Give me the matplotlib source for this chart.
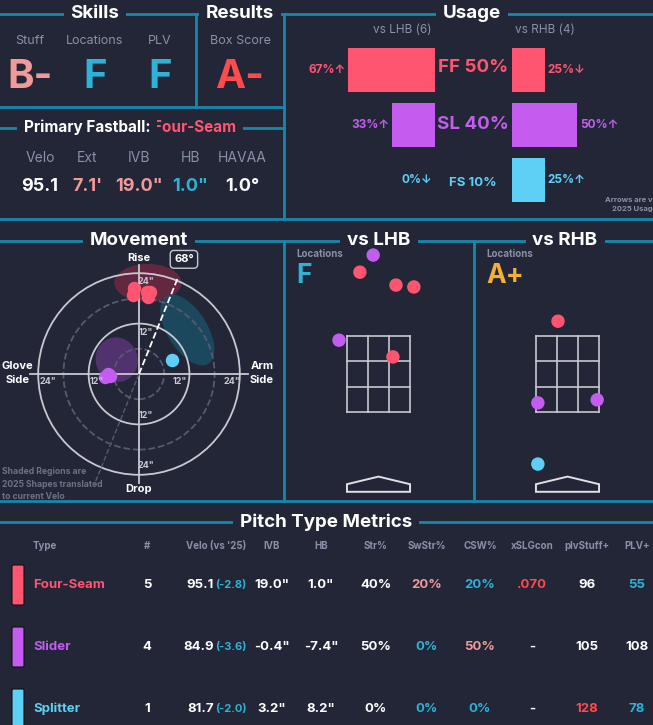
import numpy as np
import matplotlib
matplotlib.use('Agg')
import matplotlib.pyplot as plt
from matplotlib.patches import Ellipse, Circle, Polygon, FancyBboxPatch

plt.rcParams['font.family'] = ['Inter', 'DejaVu Sans']

BG = '#222637'
LINE = '#1687ad'
WHITE = '#ffffff'
GRAY = '#8a90a8'
TEAL = '#2fb2d6'
SALMON = '#f29a9a'
RED = '#ff4b4b'
GOLD = '#f2b134'
FF_C = '#ff5570'
SL_C = '#c45cf0'
FS_C = '#5fd0f5'

W, H = 653, 725

# ---- data ----
skill_names = ['Stuff', 'Locations', 'PLV']
skill_grades = ['B-', 'F', 'F']
box_score = 'A-'

fb_labels = ['Velo', 'Ext', 'IVB', 'HB', 'HAVAA']
fb_values = ['95.1', "7.1'", '19.0"', '1.0"', '1.0°']

usage_pitches = ['FF', 'SL', 'FS']
usage_total = [50, 40, 10]
usage_lhb = [67, 33, 0]
usage_rhb = [25, 50, 25]
arrow_lhb = ['↑', '↑', '↓']
arrow_rhb = ['↓', '↑', '↑']

ff_hb = [-1.2, 1.9, -1.4, 2.1, 2.6]
ff_ivb = [20.5, 19.5, 18.8, 18.3, 19.5]
sl_hb = [-8.0, -7.4, -6.8, -7.3]
sl_ivb = [-0.6, -0.3, -0.5, 0.0]
fs_hb = [7.9]
fs_ivb = [3.3]
arm_angle = 68

lhb_x = [-0.14, -0.49, 0.46, 0.93, -1.04, 0.38]
lhb_z = [5.63, 5.18, 4.84, 4.79, 3.39, 2.95]
lhb_type = ['SL', 'FF', 'FF', 'FF', 'SL', 'FF']
rhb_x = [-0.25, -0.78, 0.78, -0.78]
rhb_z = [3.89, 1.74, 1.82, 0.13]
rhb_type = ['FF', 'SL', 'SL', 'FS']
loc_grades = ['F', 'A+']

tbl_headers = ['Type', '#', "Velo (vs '25)", 'IVB', 'HB', 'Str%', 'SwStr%', 'CSW%', 'xSLGcon', 'plvStuff+', 'PLV+']
tbl_names = ['Four-Seam', 'Slider', 'Splitter']
tbl_count = ['5', '4', '1']
tbl_velo = ['95.1', '84.9', '81.7']
tbl_vdiff = ['(-2.8)', '(-3.6)', '(-2.0)']
tbl_ivb = ['19.0"', '-0.4"', '3.2"']
tbl_hb = ['1.0"', '-7.4"', '8.2"']
tbl_str = ['40%', '50%', '0%']
tbl_swstr = ['20%', '0%', '0%']
tbl_csw = ['20%', '50%', '0%']
tbl_xslg = ['.070', '-', '-']
tbl_stuff = ['96', '105', '128']
tbl_plv = ['55', '108', '78']

pcol = {'FF': FF_C, 'SL': SL_C, 'FS': FS_C}

fig = plt.figure(figsize=(W / 100, H / 100), dpi=100, facecolor=BG)
bg = fig.add_axes([0, 0, 1, 1])
bg.set_xlim(0, W)
bg.set_ylim(H, 0)
bg.axis('off')
bg.set_facecolor(BG)


def pax(x0, y0, x1, y1):
    return fig.add_axes([x0 / W, 1 - y1 / H, (x1 - x0) / W, (y1 - y0) / H])


def hline(y, x0=0, x1=W):
    bg.plot([x0, x1], [y, y], color=LINE, lw=2, zorder=1)


def vline(x, y0, y1):
    bg.plot([x, x], [y0, y1], color=LINE, lw=2, zorder=1)


def header(x, y, s, size=13.5):
    bg.text(x, y, s, color=WHITE, fontsize=size, fontweight='bold', ha='center', va='center',
            bbox=dict(facecolor=BG, edgecolor='none', pad=5), zorder=3)


def txt(x, y, s, c=WHITE, size=9, ha='center', w='bold', **kw):
    bg.text(x, y, s, color=c, fontsize=size, ha=ha, va='center', fontweight=w, **kw)


# ---- frame lines ----
hline(14)
vline(196, 14, 107)
vline(284, 14, 219)
hline(107, 0, 284)
hline(128, 0, 284)
hline(219)
hline(241)
vline(284, 241, 501)
vline(474, 241, 501)
hline(501)
hline(522)

header(95, 13, 'Skills')
header(240, 13, 'Results')
header(472, 13, 'Usage')
bg.text(153, 127, 'Four-Seam', color=FF_C, fontsize=11, fontweight='bold', ha='left', va='center',
        bbox=dict(facecolor=BG, edgecolor='none', pad=5), zorder=3)
bg.text(150, 127, 'Primary Fastball:', color=WHITE, fontsize=11, fontweight='bold', ha='right', va='center',
        bbox=dict(facecolor=BG, edgecolor='none', pad=5), zorder=4)
header(139, 240, 'Movement')
header(379, 240, 'vs LHB')
header(565, 240, 'vs RHB')
header(326, 522, 'Pitch Type Metrics')

# ---- skills ----
grade_cols = [SALMON, TEAL, TEAL]
for i, (n, g) in enumerate(zip(skill_names, skill_grades)):
    x = 30 + 65 * i
    txt(x, 41, n, GRAY, 9, w='normal')
    txt(x, 77, g, grade_cols[i], 29)
txt(240, 41, 'Box Score', GRAY, 9, w='normal')
txt(240, 77, box_score, RED, 29)

fb_cols = [WHITE, SALMON, SALMON, TEAL, WHITE]
for i, (l, v) in enumerate(zip(fb_labels, fb_values)):
    x = [40, 87, 139, 190, 242][i]
    txt(x, 158, l, GRAY, 10, w='normal')
    txt(x, 186, v, fb_cols[i], 13)

# ---- usage ----
txt(402, 30, 'vs LHB (6)', GRAY, 8.5, w='normal')
txt(545, 30, 'vs RHB (4)', GRAY, 8.5, w='normal')
ul = pax(300, 40, 435, 210)
ur = pax(512, 40, 640, 210)
ypos = np.arange(3)
cols = [FF_C, SL_C, FS_C]
ul.barh(ypos, usage_lhb, height=0.8, color=cols)
ur.barh(ypos, usage_rhb, height=0.8, color=cols)
ul.set_xlim(104, 0)
ur.set_xlim(0, 98)
for a in (ul, ur):
    a.set_ylim(2.55, -0.55)
    a.axis('off')
for i in range(3):
    ul.text(usage_lhb[i] + 2, i, f'{usage_lhb[i]}%{arrow_lhb[i]}', color=cols[i], fontsize=8.5,
            fontweight='bold', ha='right', va='center')
    ur.text(usage_rhb[i] + 2, i, f'{usage_rhb[i]}%{arrow_rhb[i]}', color=cols[i], fontsize=8.5,
            fontweight='bold', ha='left', va='center')
    sz = 13.5 if usage_total[i] >= 20 else 9.5
    txt(473, [67, 124, 183][i], f'{usage_pitches[i]} {usage_total[i]}%', cols[i], sz)
txt(605, 200, 'Arrows are vs', GRAY, 5.5, ha='left')
txt(612, 209, '2025 Usage', GRAY, 5.5, ha='left')

# ---- movement ----
mv = pax(0, 250, 284, 500)
sc = 4.2
mv.set_xlim(-139 / sc, 145 / sc)
mv.set_ylim(-(500 - 374) / sc, (374 - 250) / sc)
mv.axis('off')
mv.add_patch(Ellipse((2.1, 21.7), 16, 9, color='#7a2a44', alpha=0.75, lw=0))
mv.add_patch(Ellipse((11.5, 10.5), 19, 9.5, angle=-58, color='#1b4f66', alpha=0.85, lw=0))
mv.add_patch(Ellipse((-5.3, 3.4), 10, 10.7, angle=20, color='#5a3478', alpha=0.85, lw=0))
for r, ls, c in [(12, '-', '#c8c8d0'), (24, '-', '#c8c8d0'), (6, '--', '#555a6e'), (18, '--', '#555a6e')]:
    mv.add_patch(Circle((0, 0), r, fill=False, ls=ls, ec=c, lw=1.3))
mv.plot([-26, 26], [0, 0], color='#c8c8d0', lw=1.3)
mv.plot([0, 0], [-26, 26], color='#c8c8d0', lw=1.3)
a = np.radians(arm_angle)
mv.plot([0, 25 * np.cos(a)], [0, 25 * np.sin(a)], color=WHITE, ls='--', lw=1.3)
mv.plot([0, -29 * np.cos(a)], [0, -29 * np.sin(a)], color='#555a6e', ls='--', lw=1)
mv.scatter(ff_hb, ff_ivb, s=75, color=FF_C, zorder=5)
mv.scatter(sl_hb, sl_ivb, s=75, color=SL_C, zorder=5)
mv.scatter(fs_hb, fs_ivb, s=75, color=FS_C, zorder=5)
ring_lab = [(1.7, 22.1, 'center'), (1.7, 9.8, 'center'), (1.7, -9.8, 'center'), (1.7, -21.9, 'center'),
            (-23.6, -1.9, 'left'), (-11.7, -1.9, 'left'), (11.5, -1.9, 'right'), (24.2, -1.9, 'right')]
ring_txt = ['24"', '12"', '12"', '24"', '24"', '12"', '12"', '24"']
for (x, y, ha), s in zip(ring_lab, ring_txt):
    mv.text(x, y, s, color='#c8c8d0', fontsize=6.5, fontweight='bold', ha=ha, va='center', zorder=6)
mv.text(0, 27.6, 'Rise', color=WHITE, fontsize=8, fontweight='bold', ha='center', va='center')
mv.text(0, -27.3, 'Drop', color=WHITE, fontsize=8, fontweight='bold', ha='center', va='center')
mv.text(-28.9, 0.2, 'Glove\nSide', color=WHITE, fontsize=8, fontweight='bold', ha='center', va='center', linespacing=1.5)
mv.text(29.3, 0.2, 'Arm\nSide', color=WHITE, fontsize=8, fontweight='bold', ha='center', va='center', linespacing=1.5)
mv.text(10.7, 27.3, f'{arm_angle}°', color=WHITE, fontsize=8, fontweight='bold', ha='center', va='center',
        bbox=dict(boxstyle='round,pad=0.35', facecolor=BG, edgecolor='#c8c8d0', lw=1))
txt(2, 484, 'Shaded Regions are\n2025 Shapes translated\nto current Velo', '#6c7186', 6.2, ha='left', linespacing=1.45)

# ---- locations ----
def loc_panel(x0, x1, cx, xs, zs, types, grade, gcol):
    ax = pax(x0, 245, x1, 500)
    s = 38
    ax.set_xlim((x0 - cx) / s, (x1 - cx) / s)
    ax.set_ylim((469 - 500) / s, (469 - 245) / s)
    ax.axis('off')
    zl, zr, zb, zt = -0.83, 0.83, 1.5, 3.5
    for xv in np.linspace(zl, zr, 4):
        ax.plot([xv, xv], [zb, zt], color='#c8c8d0', lw=1.2)
    for zv in np.linspace(zb, zt, 4):
        ax.plot([zl, zr], [zv, zv], color='#c8c8d0', lw=1.2)
    ax.add_patch(Polygon([[-0.83, -0.6], [0.83, -0.6], [0.83, -0.4], [0, -0.2], [-0.83, -0.4]],
                         closed=True, fill=False, ec='#e0e0e6', lw=1.4))
    ax.scatter(xs, zs, s=75, c=[pcol[t] for t in types], zorder=5)
    bg.text(x0 + 12, 254, 'Locations', color=GRAY, fontsize=7, fontweight='bold', ha='left', va='center')
    bg.text(x0 + 12, 276, grade, color=gcol, fontsize=19, fontweight='bold', ha='left', va='center')


loc_panel(284, 474, 378.5, lhb_x, lhb_z, lhb_type, loc_grades[0], TEAL)
loc_panel(474, 653, 567.5, rhb_x, rhb_z, rhb_type, loc_grades[1], GOLD)

# ---- table ----
col_x = [33, 147, 216, 272, 321, 376, 427, 480, 532, 587, 637]
for i, h in enumerate(tbl_headers):
    txt(col_x[i], 546, h, GRAY, 7, ha='left' if i == 0 else 'center')
row_y = [585, 647, 709]
row_cols = [FF_C, SL_C, FS_C]
swstr_c = [SALMON, TEAL, TEAL]
csw_c = [TEAL, SALMON, TEAL]
xslg_c = [RED, WHITE, WHITE]
stuff_c = [WHITE, WHITE, RED]
plv_c = [TEAL, WHITE, TEAL]
for r in range(3):
    y = row_y[r]
    bg.add_patch(FancyBboxPatch((12, y - 20), 12, 40, boxstyle='round,pad=0,rounding_size=1.5',
                                fc=row_cols[r], ec='#111', lw=0.8))
    txt(33, y, tbl_names[r], row_cols[r], 9.5, ha='left')
    txt(col_x[1], y, tbl_count[r], WHITE, 9.5)
    txt(col_x[2] - 2, y, tbl_velo[r], WHITE, 9.5, ha='right')
    txt(col_x[2] - 1, y, tbl_vdiff[r], TEAL, 8, ha='left')
    txt(col_x[3], y, tbl_ivb[r], WHITE, 9.5)
    txt(col_x[4], y, tbl_hb[r], WHITE, 9.5)
    txt(col_x[5], y, tbl_str[r], WHITE, 9.5)
    txt(col_x[6], y, tbl_swstr[r], swstr_c[r], 9.5)
    txt(col_x[7], y, tbl_csw[r], csw_c[r], 9.5)
    txt(col_x[8], y, tbl_xslg[r], xslg_c[r], 9.5)
    txt(col_x[9], y, tbl_stuff[r], stuff_c[r], 9.5)
    txt(col_x[10], y, tbl_plv[r], plv_c[r], 9.5)

fig.savefig('out.png', dpi=100, facecolor=BG)
